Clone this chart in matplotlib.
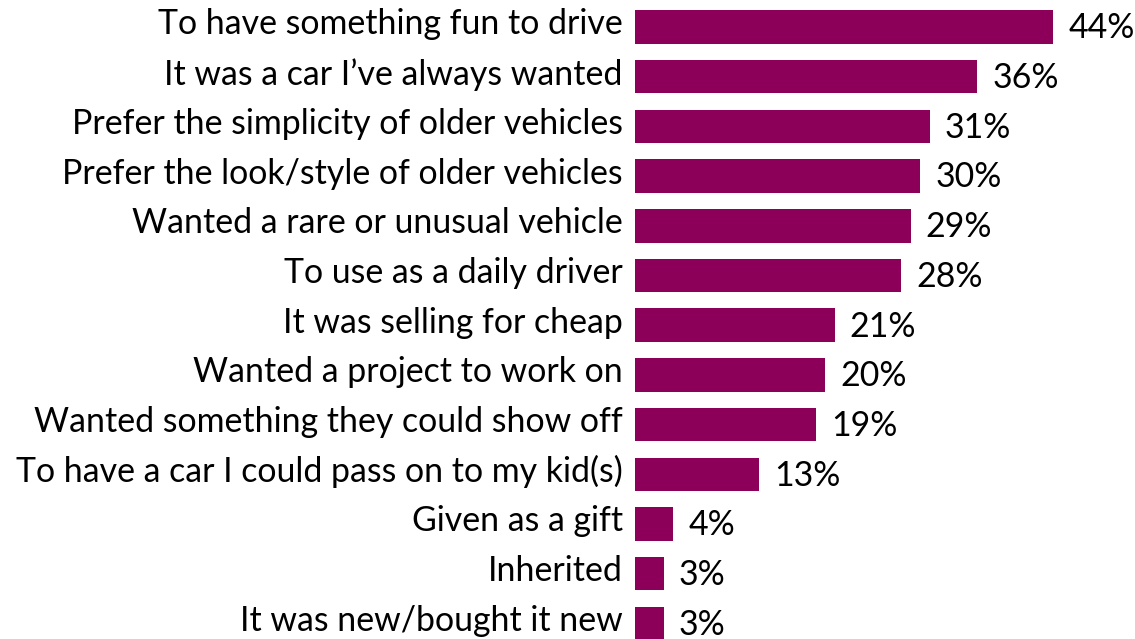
import matplotlib
matplotlib.use("Agg")
import matplotlib.pyplot as plt

# Reasons for buying, share of respondents (%)
reasons = [
    "To have something fun to drive",
    "It was a car I\u2019ve always wanted",
    "Prefer the simplicity of older vehicles",
    "Prefer the look/style of older vehicles",
    "Wanted a rare or unusual vehicle",
    "To use as a daily driver",
    "It was selling for cheap",
    "Wanted a project to work on",
    "Wanted something they could show off",
    "To have a car I could pass on to my kid(s)",
    "Given as a gift",
    "Inherited",
    "It was new/bought it new",
]
shares = [44, 36, 31, 30, 29, 28, 21, 20, 19, 13, 4, 3, 3]

BAR_COLOR = "#8C005A"
FONT = ["Lato", "DejaVu Sans"]
FS = 24.4

W, H = 1135, 639
fig = plt.figure(figsize=(W / 100, H / 100), dpi=100)
left = 635 / W
ax = fig.add_axes([left, 0.0, 1 - left, 1.0])

pos = list(range(len(reasons)))
ax.barh(pos, shares, height=0.675, color=BAR_COLOR, zorder=2)

ax.set_xlim(0, 500 / 9.5)
ax.set_ylim((H - 27) / 49.7, -27 / 49.7)
ax.set_xticks([])
ax.set_yticks([])
for spine in ax.spines.values():
    spine.set_visible(False)

# category names, right-aligned just left of the bars
for y, name in zip(pos, reasons):
    ax.annotate(name, xy=(0, y), xytext=(-8.8, 4.0), textcoords="offset points",
                ha="right", va="center_baseline", fontsize=FS, family=FONT,
                color="black", annotation_clip=False)

# value labels after each bar
for y, v in zip(pos, shares):
    ax.annotate(f"{v}%", xy=(v, y), xytext=(11.0, 1.2), textcoords="offset points",
                ha="left", va="center_baseline", fontsize=FS, family=FONT,
                color="black", annotation_clip=False)

fig.savefig("out.png", dpi=100)
